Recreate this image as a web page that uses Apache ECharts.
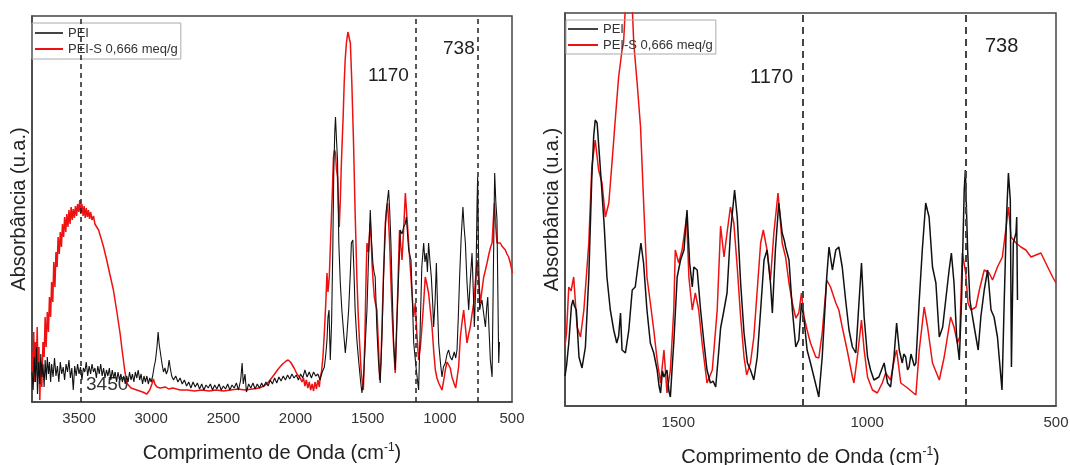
<!DOCTYPE html>
<html><head><meta charset="utf-8">
<script src="https://cdn.jsdelivr.net/npm/echarts@6/dist/echarts.min.js"></script>
<style>html,body{margin:0;padding:0;background:#fff}#c{width:1070px;height:465px}</style>
</head><body><div id="c"></div>
<script>
// [wavenumber cm-1, absorbance (a.u.)]
const leftPEI = [[3826,30],[3818,12],[3810,45],[3802,20],[3795,55],[3788,8],[3780,40],[3772,18],[3765,48],[3757,25],[3750,38],[3742,15],[3735,42],[3727,22],[3720,45],[3712,28],[3705,40],[3697,20],[3690,38],[3680,25],[3670,44],[3660,26],[3650,36],[3640,20],[3630,40],[3620,28],[3610,35],[3600,22],[3590,38],[3580,30],[3570,42],[3560,24],[3550,34],[3540,12],[3530,36],[3520,26],[3510,38],[3500,28],[3490,35],[3480,22],[3470,34],[3460,30],[3450,40],[3440,26],[3430,36],[3420,28],[3410,38],[3400,30],[3390,34],[3380,24],[3370,36],[3360,28],[3350,38],[3340,26],[3330,34],[3320,24],[3310,32],[3300,26],[3290,34],[3280,22],[3270,32],[3260,24],[3250,30],[3240,20],[3230,30],[3220,22],[3210,28],[3200,20],[3190,26],[3180,18],[3170,26],[3160,20],[3150,30],[3140,22],[3130,28],[3120,20],[3110,30],[3100,24],[3090,32],[3080,22],[3070,28],[3060,18],[3050,26],[3040,20],[3030,26],[3020,18],[3010,24],[3000,20],[2990,26],[2980,35],[2970,42],[2960,55],[2952,70],[2945,58],[2935,48],[2925,38],[2915,30],[2905,34],[2895,28],[2885,32],[2876,42],[2868,34],[2858,26],[2845,22],[2830,26],[2815,20],[2800,24],[2785,18],[2770,22],[2755,16],[2740,20],[2725,14],[2710,20],[2695,15],[2680,19],[2665,13],[2650,18],[2635,12],[2620,17],[2605,14],[2590,18],[2575,12],[2560,17],[2545,13],[2530,18],[2515,12],[2500,16],[2485,13],[2470,18],[2455,12],[2440,17],[2425,14],[2410,19],[2395,12],[2380,22],[2370,39],[2362,18],[2350,28],[2340,10],[2325,18],[2310,14],[2295,19],[2280,13],[2265,18],[2250,14],[2235,19],[2222,15],[2205,20],[2190,16],[2175,22],[2160,18],[2145,24],[2130,19],[2115,25],[2100,21],[2085,26],[2070,22],[2055,27],[2040,23],[2025,28],[2010,24],[1995,27],[1980,22],[1965,28],[1950,24],[1935,32],[1920,25],[1905,30],[1890,24],[1875,30],[1860,26],[1845,28],[1830,22],[1815,30],[1800,35],[1790,48],[1782,62],[1775,85],[1768,92],[1759,42],[1750,80],[1742,150],[1735,230],[1728,270],[1723,285],[1716,262],[1709,242],[1700,159],[1690,120],[1679,92],[1667,70],[1655,49],[1645,65],[1632,92],[1620,130],[1613,159],[1603,162],[1595,130],[1587,92],[1575,62],[1563,42],[1550,22],[1540,9],[1530,20],[1518,55],[1505,92],[1495,140],[1482,192],[1473,160],[1464,139],[1456,130],[1448,125],[1436,72],[1425,40],[1413,19],[1400,70],[1390,125],[1380,165],[1371,192],[1355,212],[1347,190],[1339,159],[1330,110],[1320,59],[1309,32],[1298,80],[1286,125],[1274,172],[1262,168],[1251,175],[1240,178],[1232,185],[1224,168],[1216,152],[1200,142],[1190,100],[1181,59],[1163,32],[1147,12],[1135,80],[1125,135],[1112,159],[1103,140],[1094,149],[1086,130],[1078,159],[1068,140],[1059,125],[1050,100],[1043,75],[1033,100],[1024,139],[1016,95],[1008,59],[995,38],[985,25],[975,35],[962,39],[950,48],[939,52],[928,45],[916,42],[900,50],[890,44],[881,52],[872,85],[863,125],[852,165],[840,195],[832,175],[823,159],[812,120],[800,92],[790,120],[777,149],[768,110],[761,75],[750,120],[742,200],[738,225],[732,150],[724,92],[716,98],[708,102],[696,88],[684,75],[675,95],[668,105],[660,75],[650,42],[638,25],[630,120],[623,200],[620,229],[612,200],[604,182],[598,110],[592,39],[587,60]];

const leftPEIS = [[3826,50],[3820,30],[3814,70],[3808,20],[3802,60],[3796,35],[3790,75],[3784,28],[3778,55],[3772,2],[3765,40],[3758,15],[3750,60],[3742,45],[3735,85],[3728,55],[3720,90],[3712,70],[3705,105],[3697,85],[3690,120],[3682,100],[3675,140],[3667,115],[3660,150],[3652,135],[3645,165],[3637,148],[3630,170],[3622,155],[3615,178],[3607,165],[3600,185],[3592,170],[3585,188],[3577,175],[3570,192],[3562,178],[3555,195],[3547,182],[3540,193],[3532,184],[3525,196],[3517,186],[3510,198],[3502,190],[3495,202],[3488,188],[3480,198],[3472,186],[3465,196],[3457,184],[3450,194],[3442,185],[3435,192],[3427,183],[3420,190],[3410,182],[3400,186],[3390,178],[3380,180],[3365,172],[3350,165],[3330,155],[3310,143],[3290,130],[3262,112],[3240,92],[3216,69],[3200,50],[3181,29],[3165,18],[3140,14],[3100,12],[3060,10],[3031,8],[3010,12],[2995,18],[2985,23],[2975,18],[2960,15],[2938,14],[2900,15],[2880,13],[2850,14],[2800,12],[2750,12],[2700,11],[2650,12],[2600,11],[2550,12],[2500,11],[2450,12],[2400,13],[2350,12],[2300,13],[2250,14],[2222,16],[2200,18],[2176,22],[2150,27],[2120,33],[2090,38],[2065,41],[2051,42],[2035,40],[2010,34],[1990,28],[1968,24],[1955,20],[1945,24],[1935,16],[1925,22],[1915,14],[1905,20],[1895,12],[1885,18],[1875,11],[1865,20],[1855,13],[1845,22],[1835,15],[1829,25],[1820,30],[1810,45],[1800,70],[1790,100],[1782,129],[1775,110],[1766,125],[1755,170],[1745,210],[1737,245],[1730,252],[1723,249],[1716,232],[1709,225],[1702,195],[1697,175],[1690,200],[1684,230],[1679,252],[1670,285],[1663,318],[1656,342],[1648,358],[1642,365],[1637,370],[1632,367],[1625,362],[1620,359],[1610,320],[1598,259],[1587,190],[1575,125],[1565,85],[1556,59],[1545,30],[1530,12],[1520,60],[1512,120],[1505,159],[1495,150],[1482,179],[1475,160],[1470,139],[1462,120],[1454,105],[1445,98],[1436,92],[1425,55],[1417,22],[1408,40],[1401,75],[1390,130],[1378,179],[1370,190],[1362,199],[1355,180],[1348,159],[1340,125],[1332,92],[1320,55],[1309,29],[1300,70],[1292,109],[1285,145],[1279,172],[1270,155],[1262,142],[1250,175],[1239,209],[1228,185],[1216,159],[1205,135],[1193,109],[1181,85],[1170,99],[1160,70],[1147,42],[1135,55],[1124,75],[1112,100],[1101,125],[1090,118],[1078,109],[1066,92],[1054,75],[1042,50],[1031,32],[1020,24],[1008,19],[995,15],[985,12],[975,20],[962,32],[950,40],[939,42],[928,34],[916,25],[900,18],[890,14],[881,12],[870,35],[858,65],[846,80],[835,92],[823,75],[812,59],[800,68],[789,75],[777,88],[765,99],[755,118],[742,142],[730,120],[719,99],[708,112],[696,125],[684,132],[673,139],[660,148],[648,155],[638,159],[630,180],[622,199],[614,178],[604,159],[592,160],[581,159],[570,156],[558,154],[546,152],[535,148],[523,145],[510,138],[497,129]];

const rightPEI = [[1800,30],[1796,40],[1790,63],[1783,100],[1779,106],[1775,100],[1770,96],[1763,49],[1755,38],[1746,59],[1737,129],[1729,229],[1724,270],[1720,286],[1715,283],[1708,246],[1702,213],[1696,179],[1689,129],[1680,96],[1671,76],[1663,63],[1658,70],[1653,93],[1649,56],[1644,58],[1640,53],[1631,76],[1622,116],[1614,119],[1605,146],[1599,163],[1592,143],[1583,96],[1574,63],[1565,53],[1556,36],[1551,20],[1547,13],[1542,35],[1538,29],[1530,36],[1525,15],[1521,9],[1516,40],[1512,63],[1503,129],[1494,146],[1485,156],[1477,196],[1470,143],[1463,119],[1459,139],[1450,136],[1441,96],[1432,63],[1424,36],[1415,23],[1408,25],[1401,19],[1394,50],[1388,78],[1379,96],[1371,113],[1362,173],[1351,216],[1344,189],[1335,123],[1326,73],[1317,43],[1309,36],[1300,26],[1291,49],[1282,96],[1273,146],[1265,156],[1256,123],[1251,93],[1243,156],[1234,203],[1225,173],[1219,165],[1216,159],[1207,146],[1198,96],[1189,59],[1181,66],[1174,103],[1167,86],[1159,56],[1150,43],[1137,23],[1128,9],[1119,49],[1107,129],[1101,159],[1092,136],[1083,156],[1075,159],[1066,139],[1057,106],[1048,76],[1039,59],[1030,53],[1024,89],[1015,143],[1008,89],[999,49],[991,36],[982,26],[969,29],[962,36],[955,43],[946,23],[938,19],[929,49],[922,83],[915,56],[907,43],[903,52],[898,49],[893,36],[889,39],[884,52],[880,53],[875,40],[871,43],[862,106],[854,156],[845,203],[840,195],[836,189],[827,139],[818,123],[809,69],[800,79],[792,106],[783,136],[777,153],[770,123],[763,69],[756,46],[750,106],[743,216],[740,236],[734,156],[728,106],[721,89],[712,69],[706,56],[699,89],[690,116],[681,136],[672,96],[664,89],[655,69],[643,16],[637,106],[631,189],[626,233],[621,206],[618,39],[613,163],[606,173],[604,189],[602,106]];

const rightPEIS = [[1800,60],[1796,73],[1790,119],[1784,115],[1777,129],[1768,79],[1759,69],[1750,96],[1737,163],[1729,239],[1720,266],[1711,236],[1702,223],[1693,189],[1684,203],[1675,246],[1667,286],[1658,329],[1649,356],[1645,363],[1640,400],[1630,410],[1622,400],[1618,363],[1609,323],[1600,279],[1591,196],[1583,129],[1574,103],[1565,76],[1556,46],[1547,23],[1538,56],[1530,13],[1521,36],[1512,96],[1508,156],[1499,143],[1490,156],[1478,189],[1472,129],[1463,96],[1455,113],[1446,96],[1437,63],[1424,23],[1410,36],[1397,96],[1388,180],[1379,149],[1371,173],[1362,199],[1353,183],[1344,139],[1335,89],[1326,49],[1319,31],[1309,43],[1300,69],[1291,116],[1282,163],[1275,176],[1265,156],[1256,126],[1247,173],[1236,213],[1225,163],[1216,149],[1207,123],[1198,103],[1189,88],[1181,93],[1174,113],[1167,89],[1159,76],[1150,63],[1136,49],[1128,48],[1119,73],[1107,126],[1097,119],[1083,103],[1075,96],[1066,79],[1053,56],[1039,29],[1035,23],[1026,49],[1015,86],[1008,56],[999,29],[986,16],[973,13],[960,23],[951,33],[938,26],[927,49],[922,56],[911,23],[893,18],[871,11],[862,56],[849,99],[840,79],[827,43],[809,26],[796,49],[779,89],[770,79],[761,63],[755,69],[748,153],[739,133],[733,103],[725,96],[712,99],[703,116],[690,136],[677,133],[668,126],[655,139],[642,149],[633,176],[626,199],[619,169],[606,163],[593,159],[580,156],[566,149],[553,151],[540,153],[522,139],[509,129],[500,123]];

const leftMarkers = [3490, 1170, 738];
const rightMarkers = [1170, 738];
const xTickStep = 500;
const seriesNames = ['PEI', 'PEI-S 0,666 meq/g'];

const FONT = 'Liberation Sans, Arial, sans-serif';
const chart = echarts.init(document.getElementById('c'), null, {renderer: 'canvas'});

function xAxisCfg(gridIndex, min, max, gap, margin) {
  return {
    type: 'value', gridIndex, min, max, interval: xTickStep, inverse: true,
    name: 'Comprimento de Onda (cm{s|-1})',
    nameLocation: 'middle', nameGap: gap,
    nameTextStyle: {fontFamily: FONT, fontSize: 20, color: '#222',
      rich: {s: {fontSize: 12, verticalAlign: 'top', padding: [0,0,10,0], fontFamily: FONT, color: '#222'}}},
    axisLine: {show: true, onZero: false, lineStyle: {color: '#444', width: 1.5}},
    axisTick: {show: false}, splitLine: {show: false},
    axisLabel: {fontFamily: FONT, fontSize: 15, color: '#333', margin,
      formatter: v => (v % xTickStep === 0 ? String(v) : '')}
  };
}
function yAxisCfg(gridIndex, max) {
  return {
    type: 'value', gridIndex, min: 0, max,
    name: 'Absorbância (u.a.)', nameLocation: 'middle', nameGap: 3,
    nameTextStyle: {fontFamily: FONT, fontSize: 20, color: '#222'},
    axisLine: {show: true, lineStyle: {color: '#444', width: 1.5}},
    axisTick: {show: false}, axisLabel: {show: false}, splitLine: {show: false}
  };
}
function mark(list, color, width, dash) {
  return {
    silent: true, symbol: 'none', label: {show: false},
    lineStyle: {type: dash, color, width},
    data: list.map(v => ({xAxis: v}))
  };
}
function legendCfg(left, top, pad, w) {
  return {
    data: seriesNames, orient: 'vertical', left, top, padding: pad, itemGap: 2,
    itemWidth: w, itemHeight: 2, icon: 'rect',
    borderColor: '#aaa', borderWidth: 1, borderRadius: 0,
    textStyle: {fontFamily: FONT, fontSize: 13, color: '#333', lineHeight: 14}
  };
}
const lineBase = {type: 'line', showSymbol: false, symbol: 'none', animation: false, clip: true};

chart.setOption({
  animation: false,
  backgroundColor: '#fff',
  grid: [
    {left: 32, top: 16, width: 480, height: 386, show: true, borderColor: '#444', borderWidth: 1.5,
      containLabel: false, outerBoundsMode: 'none'},
    {left: 565, top: 13, width: 491, height: 393, show: true, borderColor: '#444', borderWidth: 1.5,
      containLabel: false, outerBoundsMode: 'none'}
  ],
  xAxis: [xAxisCfg(0, 500, 3826, 40, 9), xAxisCfg(1, 500, 1800, 40, 9)],
  yAxis: [yAxisCfg(0, 386), yAxisCfg(1, 393)],
  legend: [legendCfg(32, 23, [3, 3, 3, 3], 28), legendCfg(566, 20, [2, 3, 2, 2], 30)],
  series: [
    Object.assign({}, lineBase, {name: seriesNames[0], xAxisIndex: 0, yAxisIndex: 0, data: leftPEI, z: 3,
      lineStyle: {color: '#111', width: 1.1}, itemStyle: {color: '#444'},
      markLine: mark(leftMarkers, '#222', 1.5, [5, 4])}),
    Object.assign({}, lineBase, {name: seriesNames[1], xAxisIndex: 0, yAxisIndex: 0, data: leftPEIS, z: 2,
      lineStyle: {color: '#ee1111', width: 1.5}, itemStyle: {color: '#ee1111'}}),
    Object.assign({}, lineBase, {name: seriesNames[0], xAxisIndex: 1, yAxisIndex: 1, data: rightPEI, z: 3,
      lineStyle: {color: '#111', width: 1.5}, itemStyle: {color: '#111'},
      markLine: mark(rightMarkers, '#444', 2, [7, 5])}),
    Object.assign({}, lineBase, {name: seriesNames[1], xAxisIndex: 1, yAxisIndex: 1, data: rightPEIS, z: 2,
      lineStyle: {color: '#ee1111', width: 1.5}, itemStyle: {color: '#ee1111'}})
  ],
  graphic: [
    {type: 'text', left: 86, top: 375, z: 1, style: {text: '3450', font: '19px ' + FONT, fill: '#333'}},
    {type: 'text', left: 368, top: 66, style: {text: '1170', font: '19px ' + FONT, fill: '#222'}},
    {type: 'text', left: 443, top: 39, style: {text: '738', font: '19px ' + FONT, fill: '#222'}},
    {type: 'text', left: 750, top: 67, style: {text: '1170', font: '20px ' + FONT, fill: '#222'}},
    {type: 'text', left: 985, top: 36, style: {text: '738', font: '20px ' + FONT, fill: '#222'}}
  ]
});
</script></body></html>
